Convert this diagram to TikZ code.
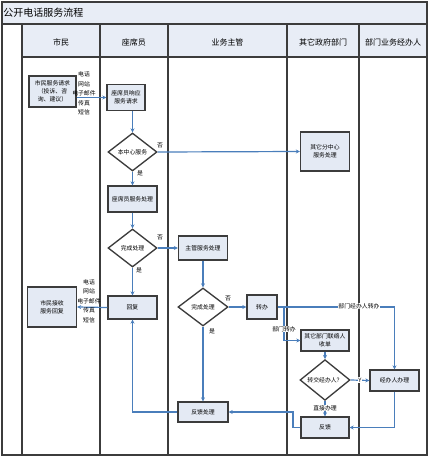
\documentclass[tikz,border=0pt]{standalone}
\usepackage{fontspec}
\setmainfont{Noto Sans CJK SC}
\usetikzlibrary{shapes.geometric,arrows.meta}
\definecolor{boxfill}{HTML}{E4EAF4}
\definecolor{headfill}{HTML}{E8EDF6}
\definecolor{linegray}{HTML}{3C3C3C}
\definecolor{arrblue}{HTML}{4A7EBB}
\tikzset{
  x=0.75pt, y=-0.75pt,
  lane/.style={draw=linegray, line width=1.1pt},
  proc/.style={draw=linegray, fill=boxfill, line width=1pt, inner sep=1pt, align=center,
    font=\fontsize{4.4}{5.8}\selectfont},
  decision/.style={diamond, draw=linegray, fill=white, line width=1pt, inner sep=0pt, align=center,
    font=\fontsize{4.4}{5.8}\selectfont},
  arr/.style={draw=arrblue, line width=0.9pt, -{Stealth[length=3pt,width=3pt]}},
  lbl/.style={font=\fontsize{4.4}{5.8}\selectfont, inner sep=0.5pt},
  wlbl/.style={lbl, fill=white},
  chan/.style={font=\fontsize{4.4}{7.2}\selectfont, align=center, inner sep=0pt},
  head/.style={font=\fontsize{6}{7}\selectfont}
}
\begin{document}
\begin{tikzpicture}
\useasboundingbox (0,0) rectangle (430,458);
% frame and lanes
\fill[headfill] (2,2) rectangle (427,24);
\fill[headfill] (22,24) rectangle (427,57);
\draw[lane] (2,2) rectangle (427,455);
\draw[lane] (2,24) -- (427,24);
\draw[lane] (22,57) -- (427,57);
\foreach \xx in {22,100,168,287,359} \draw[lane] (\xx,24) -- (\xx,455);
\node[anchor=west, font=\fontsize{7.5}{9}\selectfont, inner sep=0pt] (title) at (3,13) {公开电话服务流程};
\node[head] (h1) at (61,42) {市民};
\node[head] (h2) at (134,42) {座席员};
\node[head] (h3) at (227.5,42) {业务主管};
\node[head] (h4) at (323,42) {其它政府部门};
\node[head] (h5) at (393,42) {部门业务经办人};
% nodes
\node[proc, minimum width=35.25pt, minimum height=23.25pt] (req) at (52.5,91.5) {市民服务请求\\（投诉、咨\\询、建议）};
\node[proc, minimum width=28.5pt, minimum height=19.5pt] (resp) at (126,97.5) {座席员响应\\服务请求};
\node[decision, minimum width=36.75pt, minimum height=28.5pt] (d1) at (132.5,152) {本中心服务};
\node[proc, minimum width=36.75pt, minimum height=29.25pt] (other) at (325,151.5) {其它分中心\\服务处理};
\node[proc, minimum width=36.75pt, minimum height=19.5pt] (sproc) at (132.5,199) {座席员服务处理};
\node[decision, minimum width=36.75pt, minimum height=28.5pt] (d2) at (132.5,248) {完成处理};
\node[proc, minimum width=36.75pt, minimum height=18pt] (sup) at (203,248) {主管服务处理};
\node[proc, minimum width=36.75pt, minimum height=17.25pt] (reply) at (132.5,307.5) {回复};
\node[proc, minimum width=36.75pt, minimum height=30pt] (recv) at (52,307) {市民接收\\服务回复};
\node[decision, minimum width=37.5pt, minimum height=28.5pt] (d3) at (203,307) {完成处理};
\node[proc, minimum width=22.5pt, minimum height=18pt] (trans) at (262,307) {转办};
\node[proc, minimum width=37.5pt, minimum height=15pt] (fb) at (203,412) {反馈处理};
\node[proc, minimum width=36pt, minimum height=15.75pt] (liaison) at (325,340.5) {其它部门联络人\\收单};
\node[decision, minimum width=37.5pt, minimum height=28.5pt] (d4) at (325,380) {转交经办人？};
\node[proc, minimum width=36.75pt, minimum height=15.75pt] (handler) at (394.5,380.5) {经办人办理};
\node[proc, minimum width=36pt, minimum height=15.75pt] (feedback) at (325,427.5) {反馈};
\coordinate (tb) at (284,307);
\coordinate (fbj) at (293,412);
% connectors
\draw[arr] (req.east |- resp.west) -- (resp.west);
\node[chan] (ch1) at (84,93.5) {电话\\网站\\电子邮件\\传真\\短信};
\draw[arr] (d1.north |- resp.south) -- (d1.north);
\draw[arr] (d1.east) -- (other.west);
\node[lbl] (n1) at (160,145) {否};
\draw[arr] (d1.south) -- (sproc.north);
\node[lbl] (y1) at (140,173) {是};
\draw[arr] (sproc.south) -- (d2.north);
\draw[arr] (d2.east) -- (sup.west);
\node[lbl] (n2) at (160,237) {否};
\draw[arr] (d2.south) -- (reply.north);
\node[lbl] (y2) at (139,270) {是};
\draw[arr] (reply.west) -- (recv.east);
\node[chan] (ch2) at (89,301) {电话\\网站\\电子邮件\\传真\\短信};
\draw[arr] (sup.south) -- (d3.north);
\draw[arr] (d3.east) -- (trans.west);
\node[lbl] (n3) at (228,298) {否};
\draw[arr] (d3.south) -- (fb.north);
\node[lbl] (y3) at (212,331) {是};
\draw[arr] (trans.east) -| (handler.north);
\node[wlbl] (l1) at (359,306) {部门经办人转办};
\draw[arr] (trans.east) -- (tb) |- (liaison.west);
\node[wlbl] (l2) at (284,329) {部门转办};
\draw[arr] (liaison.south) -- (d4.north);
\draw[arr] (d4.east) -- (handler.west);
\node[wlbl] (l3) at (360,380) {Y};
\draw[arr] (d4.south) -- (feedback.north);
\node[wlbl] (l4) at (325,408) {直接办理};
\draw[arr] (handler.south) |- (feedback.east);
\draw[arr] (feedback.west) -| (fbj) -- (fb.east);
\draw[arr] (fb.west) -| (reply.south);
\end{tikzpicture}
\end{document}
